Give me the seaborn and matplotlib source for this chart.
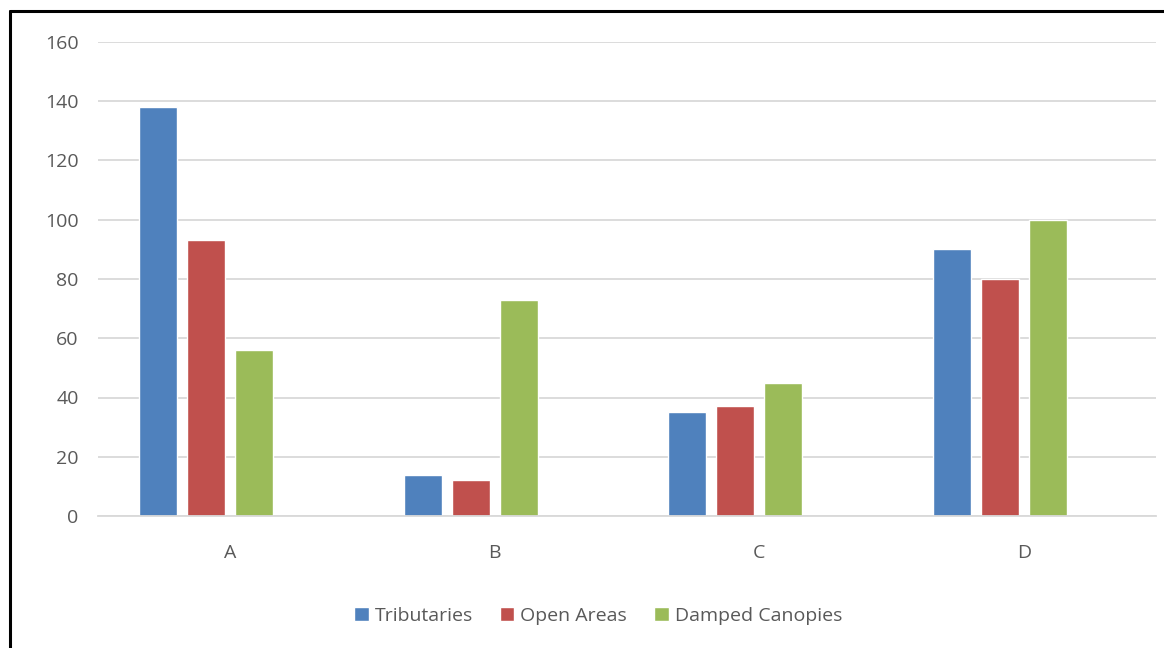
import pandas as pd
import numpy as np
import matplotlib
matplotlib.use('Agg')
import matplotlib.pyplot as plt
import seaborn as sns
from matplotlib.lines import Line2D
from matplotlib.patches import Patch

categories = ['A', 'B', 'C', 'D']
series = ['Tributaries', 'Open Areas', 'Damped Canopies']
tributaries = [138, 14, 35, 90]
open_areas = [93, 12, 37, 80]
damped_canopies = [56, 73, 45, 100]
colors = ['#4F81BD', '#C0504D', '#9BBB59']

data = pd.DataFrame({
    'cat': categories * 3,
    'series': [s for s in series for _ in categories],
    'value': tributaries + open_areas + damped_canopies,
})

sns.set_style('white')
plt.rcParams['font.family'] = ['Open Sans', 'DejaVu Sans']

fig = plt.figure(figsize=(11.64, 6.48), dpi=100)
ax = fig.add_axes([98/1164, 1 - 516/648, (1156 - 98)/1164, (516 - 42)/648])

# the original chart keeps an empty fourth slot in each group
sns.barplot(data=data, x='cat', y='value', hue='series',
            hue_order=series + [' '], palette=colors + ['white'],
            width=0.727, gap=0.21, ax=ax, legend=False, saturation=1)

ax.set_ylim(0, 160)
ax.set_xlim(-0.5, 3.5)
ax.set_yticks(range(0, 161, 20))
ax.yaxis.grid(True, color='#D9D9D9', linewidth=1.3)
ax.set_axisbelow(True)
for s in ['top', 'right', 'left']:
    ax.spines[s].set_visible(False)
ax.spines['bottom'].set_color('#D9D9D9')
ax.spines['bottom'].set_linewidth(1.3)
ax.tick_params(axis='both', length=0, colors='#595959', labelsize=14)
ax.tick_params(axis='y', pad=14)
ax.tick_params(axis='x', pad=20)
ax.set_xlabel('')
ax.set_ylabel('')

handles = [Patch(facecolor=c, label=s) for c, s in zip(colors, series)]
leg = fig.legend(handles=handles, loc='center', bbox_to_anchor=(598/1164, 1 - 616/648),
                 ncol=3, frameon=False, fontsize=14, handlelength=0.75, handleheight=0.75,
                 handletextpad=0.3, columnspacing=1.4)
for t in leg.get_texts():
    t.set_color('#595959')

# chart frame (cropped on right and bottom)
fig.add_artist(Line2D([10.5/1164, 10.5/1164], [0, 1 - 11/648], color='black', linewidth=2.2))
fig.add_artist(Line2D([10.5/1164, 1], [1 - 11/648, 1 - 11/648], color='black', linewidth=2.2))

fig.savefig('out.png', dpi=100)
